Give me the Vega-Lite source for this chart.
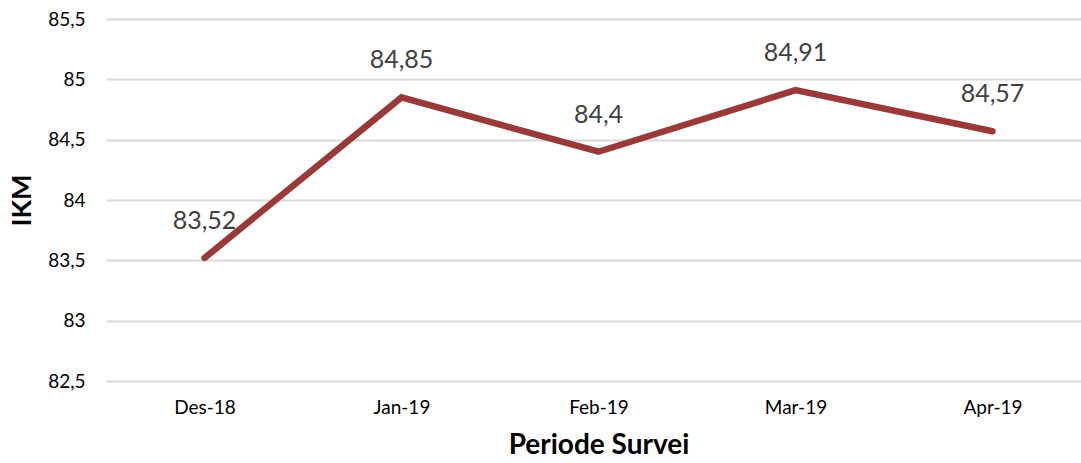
{
  "$schema": "https://vega.github.io/schema/vega-lite/v6.json",
  "width": 985,
  "height": 362,
  "autosize": {"type": "none"},
  "padding": {"left": 106, "top": 19, "right": 0, "bottom": 82},
  "background": "white",
  "config": {
    "locale": {"number": {"decimal": ",", "thousands": ".", "grouping": [3], "currency": ["", ""]}},
    "view": {"stroke": null},
    "font": "Lato"
  },
  "data": {
    "values": [
      {"periode": "Des-18", "ikm": 83.52},
      {"periode": "Jan-19", "ikm": 84.85},
      {"periode": "Feb-19", "ikm": 84.4},
      {"periode": "Mar-19", "ikm": 84.91},
      {"periode": "Apr-19", "ikm": 84.57}
    ]
  },
  "encoding": {
    "x": {
      "field": "periode", "type": "ordinal", "sort": null,
      "scale": {"paddingInner": 0, "paddingOuter": 0.5},
      "axis": {
        "title": "Periode Survei", "titleFontSize": 28, "titleFontWeight": "bold", "titleColor": "#000000",
        "titlePadding": 14, "labelAngle": 0, "labelFontSize": 19, "labelColor": "#000000", "labelPadding": 17,
        "domain": false, "ticks": false, "grid": false
      }
    },
    "y": {
      "field": "ikm", "type": "quantitative",
      "scale": {"domain": [82.5, 85.5], "nice": false, "zero": false},
      "axis": {
        "title": "IKM", "titleFontSize": 27, "titleFontWeight": "bold", "titleColor": "#000000", "titlePadding": 11,
        "values": [82.5, 83, 83.5, 84, 84.5, 85, 85.5], "format": "~g",
        "labelFontSize": 19, "labelColor": "#000000", "labelPadding": 21,
        "domain": false, "ticks": false, "grid": true, "gridColor": "#d9d9d9", "gridWidth": 2
      }
    }
  },
  "layer": [
    {
      "mark": {"type": "line", "color": "#9a3a38", "strokeWidth": 6.5, "strokeCap": "round", "strokeJoin": "miter"}
    },
    {
      "mark": {"type": "text", "dy": -37, "fontSize": 25, "color": "#404040"},
      "encoding": {"text": {"field": "ikm", "type": "quantitative", "format": "~g"}}
    }
  ]
}
